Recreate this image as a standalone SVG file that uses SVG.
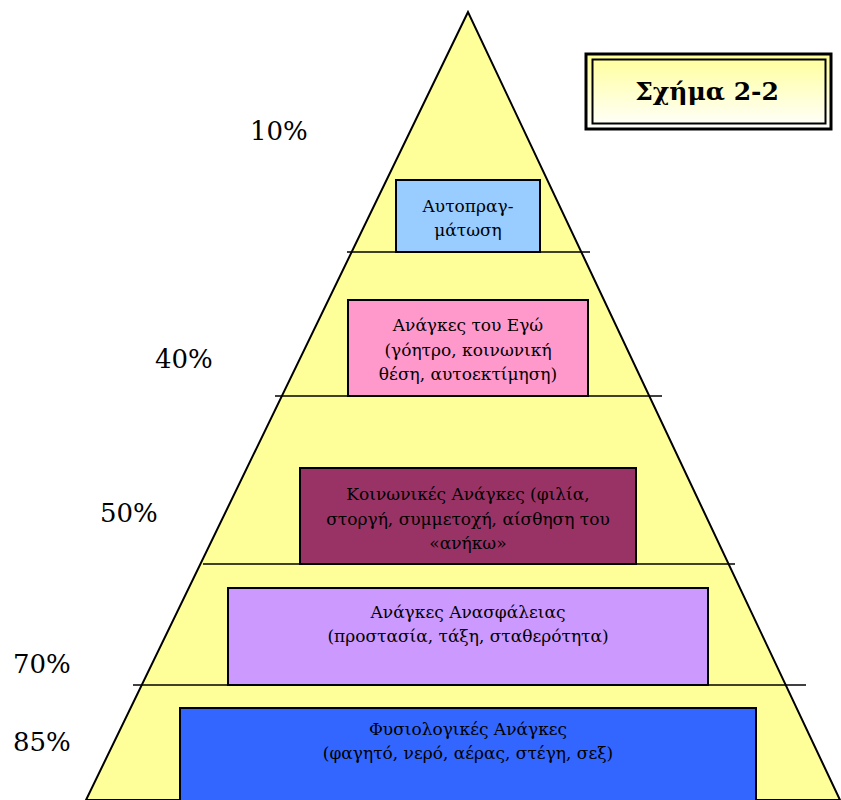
<svg xmlns="http://www.w3.org/2000/svg" width="841" height="800" viewBox="0 0 841 800">
  <defs>
    <linearGradient id="titleFill" x1="0" y1="0" x2="0" y2="1">
      <stop offset="0" stop-color="#FFFF99"/>
      <stop offset="1" stop-color="#FFFFFF"/>
    </linearGradient>
    <style>
      .tier { stroke: #000; stroke-width: 2; }
      .divider { stroke: #000; stroke-width: 1.6; fill: none; }
      .label { font-size: 17px; text-anchor: middle; fill: #000; }
      .pct { font-size: 26px; fill: #000; }
      .title { font-size: 25px; font-weight: bold; text-anchor: middle; fill: #000; }
    </style>
  </defs>

  <rect width="841" height="800" fill="#FFFFFF"/>

  <!-- pyramid body -->
  <g id="pyramid">
    <polygon points="468,12 86,800 840,800" fill="#FFFF99" stroke="#000" stroke-width="2" stroke-linejoin="miter"/>
  </g>

  <!-- level dividers -->
  <g id="connectors">
    <line class="divider" x1="347" y1="252" x2="590" y2="252"/>
    <line class="divider" x1="275" y1="396" x2="662" y2="396"/>
    <line class="divider" x1="203" y1="564" x2="735" y2="564"/>
    <line class="divider" x1="133" y1="685" x2="806" y2="685"/>
  </g>

  <g id="self-actualisation" font-family="DejaVu Serif, serif">
    <rect class="tier" x="396" y="180" width="144" height="72" fill="#99CCFF"/>
    <text class="label" x="468" y="212">Αυτοπραγ-</text>
    <text class="label" x="468" y="236">μάτωση</text>
  </g>

  <g id="esteem" font-family="DejaVu Serif, serif">
    <rect class="tier" x="348" y="300" width="240" height="96" fill="#FF99CC"/>
    <text class="label" x="468" y="331">Ανάγκες του Εγώ</text>
    <text class="label" x="468" y="356">(γόητρο, κοινωνική</text>
    <text class="label" x="468" y="380">θέση, αυτοεκτίμηση)</text>
  </g>

  <g id="social" font-family="DejaVu Serif, serif">
    <rect class="tier" x="300" y="468" width="336" height="96" fill="#993366"/>
    <text class="label" x="468" y="500">Κοινωνικές Ανάγκες (φιλία,</text>
    <text class="label" x="468" y="525">στοργή, συμμετοχή, αίσθηση του</text>
    <text class="label" x="468" y="549">«ανήκω»</text>
  </g>

  <g id="safety" font-family="DejaVu Serif, serif">
    <rect class="tier" x="228" y="588" width="480" height="97" fill="#CC99FF"/>
    <text class="label" x="468" y="618">Ανάγκες Ανασφάλειας</text>
    <text class="label" x="468" y="642">(προστασία, τάξη, σταθερότητα)</text>
  </g>

  <g id="physiological" font-family="DejaVu Serif, serif">
    <rect class="tier" x="180" y="708" width="576" height="100" fill="#3366FF"/>
    <text class="label" x="468" y="735">Φυσιολογικές Ανάγκες</text>
    <text class="label" x="468" y="759">(φαγητό, νερό, αέρας, στέγη, σεξ)</text>
  </g>

  <g id="percentages" font-family="DejaVu Serif, serif">
    <text class="pct" x="250" y="140">10%</text>
    <text class="pct" x="155" y="368">40%</text>
    <text class="pct" x="100" y="522">50%</text>
    <text class="pct" x="13" y="673">70%</text>
    <text class="pct" x="13" y="751">85%</text>
  </g>

  <g id="figure-title" font-family="DejaVu Serif, serif">
    <rect x="586" y="54" width="245" height="75" fill="url(#titleFill)" stroke="#000" stroke-width="3"/>
    <rect x="592.5" y="59.5" width="233" height="64" fill="none" stroke="#000" stroke-width="2"/>
    <text class="title" x="707" y="100">Σχήμα 2-2</text>
  </g>
</svg>
